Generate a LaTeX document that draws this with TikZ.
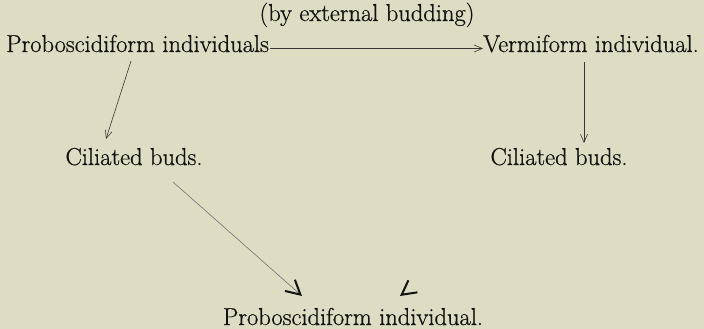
\documentclass[tikz,border=0pt]{standalone}
\usepackage{fontspec}
\setmainfont{Latin Modern Roman}[FakeBold=0.7]
\usetikzlibrary{arrows.meta}
\definecolor{paper}{HTML}{DEDCC3}
\definecolor{ink}{HTML}{121210}
\begin{document}
\begin{tikzpicture}[x=1pt,y=-1pt,
  lbl/.style={inner sep=0pt,anchor=base,font=\fontsize{24.5}{28}\selectfont,text=ink},
  arr/.style={draw=ink!85,line width=0.6pt,-{Straight Barb[length=8pt,width=7pt,line width=0.6pt]}},
  bigarr/.style={draw=ink!60,line width=0.6pt,-{Straight Barb[length=14pt,width=15pt,line width=2pt,color=ink]}}]
\fill[paper] (0,0) rectangle (704,329);
\useasboundingbox (0,0) rectangle (704,329);
\node[lbl] (title) at (367,21) {(by external budding)};
\node[lbl,anchor=base west] (pi) at (6,52) {Proboscidiform individuals};
\node[lbl,anchor=base west] (vi) at (483,52) {Vermiform individual.};
\node[lbl] (cl) at (134,165) {Ciliated buds.};
\node[lbl] (cr) at (559,165) {Ciliated buds.};
\node[lbl] (pb) at (353,325) {Proboscidiform individual.};
\coordinate (a1s) at (131,61);
\coordinate (a1e) at (106,139);
\coordinate (a2s) at (584,62);
\coordinate (a2e) at (584,143);
\coordinate (a3s) at (173,182);
\coordinate (a3e) at (302,296);
\coordinate (a4s) at (401.6,294.8);
\coordinate (a4e) at (400,296);
\draw[arr] (pi.east) ++(1pt,-5pt) coordinate (hs) (hs) -- (vi.west |- hs);
\draw[arr] (a1s) -- (a1e);
\draw[arr] (a2s) -- (a2e);
\draw[bigarr] (a3s) -- (a3e);
\draw[bigarr,line width=0.1pt] (a4s) -- (a4e);
\end{tikzpicture}
\end{document}
